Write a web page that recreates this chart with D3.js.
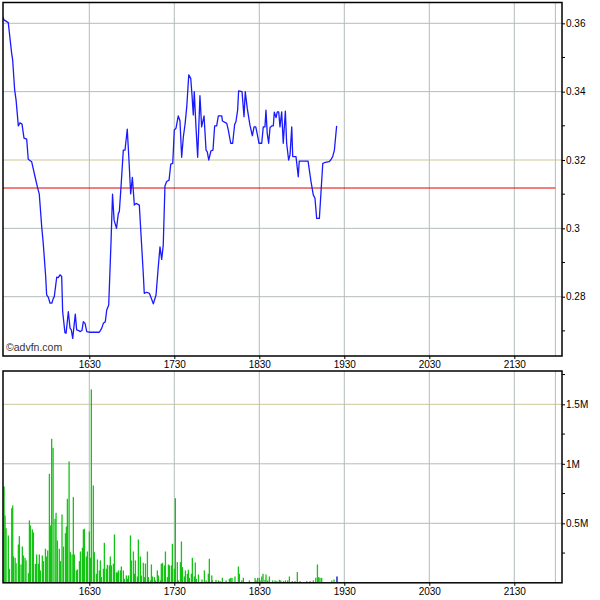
<!DOCTYPE html>
<html><head><meta charset="utf-8">
<script src="https://cdn.jsdelivr.net/npm/d3@7"></script>
<style>
html,body{margin:0;padding:0;background:#fff;}
svg{display:block;}
text{font-family:"Liberation Sans",Arial,sans-serif;font-size:10px;fill:#000;}
</style></head>
<body>
<svg id="c" width="600" height="600"></svg>
<script>
// ---- data (time = minutes after midnight) ----
const priceTime = [928.9,929.8,932.8,935.2,935.9,937.3,938.3,939.9,941.1,942.5,943.9,945.8,946.9,949.3,951.7,953.6,954.7,956.4,957.5,959.2,959.9,961.1,962.3,963.5,964.6,965.3,967.0,968.1,969.3,970.5,971.2,972.8,973.6,975.2,976.4,977.3,978.3,980.1,981.1,982.5,983.4,984.8,985.8,987.0,988.2,990.0,997.1,998.8,999.9,1001.3,1002.3,1003.7,1005.3,1006.4,1007.5,1009.2,1010.5,1011.2,1012.4,1014.0,1015.2,1016.8,1018.0,1019.2,1020.4,1021.8,1023.0,1025.3,1027.0,1028.1,1028.8,1030.5,1032.4,1034.1,1035.2,1037.1,1038.7,1039.9,1041.1,1042.2,1043.4,1044.6,1046.3,1047.5,1048.9,1050.0,1051.2,1052.8,1054.0,1055.2,1056.4,1057.6,1058.8,1060.2,1061.6,1062.5,1063.4,1064.1,1065.3,1066.5,1068.1,1069.3,1071.0,1072.4,1073.3,1074.3,1075.9,1077.3,1078.5,1079.9,1081.1,1083.5,1084.0,1087.0,1088.1,1089.8,1091.2,1092.6,1093.5,1094.7,1095.4,1097.8,1099.2,1100.1,1101.5,1103.4,1105.1,1106.3,1107.5,1108.6,1109.8,1111.7,1112.8,1114.0,1114.7,1115.6,1116.6,1117.6,1119.0,1119.9,1120.6,1121.8,1122.7,1123.7,1124.6,1125.8,1126.9,1128.4,1129.3,1130.7,1131.7,1132.9,1133.6,1135.9,1137.5,1138.2,1144.4,1145.3,1146.5,1148.1,1149.3,1150.5,1152.4,1154.8,1155.9,1159.2,1160.4,1161.8,1163.0,1164.6];
const priceValue = [0.3618,0.3610,0.3602,0.3512,0.3493,0.3405,0.3376,0.3300,0.3309,0.3305,0.3264,0.3261,0.3202,0.3195,0.3151,0.3117,0.3100,0.3005,0.2956,0.2859,0.2805,0.2798,0.2781,0.2781,0.2795,0.2800,0.2857,0.2856,0.2864,0.2859,0.2756,0.2695,0.2693,0.2756,0.2708,0.2703,0.2678,0.2749,0.2703,0.2701,0.2698,0.2701,0.2727,0.2722,0.2698,0.2696,0.2696,0.2708,0.2722,0.2727,0.2761,0.2776,0.2956,0.3100,0.3024,0.3000,0.3044,0.3049,0.3122,0.3229,0.3229,0.3290,0.3200,0.3101,0.3149,0.3068,0.3073,0.3068,0.2946,0.2868,0.2810,0.2813,0.2810,0.2792,0.2779,0.2805,0.2888,0.2946,0.2909,0.2951,0.3124,0.3137,0.3141,0.3188,0.3190,0.3288,0.3293,0.3329,0.3315,0.3208,0.3268,0.3305,0.3356,0.3449,0.3439,0.3390,0.3332,0.3400,0.3297,0.3208,0.3388,0.3297,0.3329,0.3229,0.3224,0.3200,0.3227,0.3229,0.3300,0.3300,0.3329,0.3329,0.3314,0.3307,0.3288,0.3249,0.3249,0.3304,0.3312,0.3346,0.3402,0.3400,0.3327,0.3400,0.3351,0.3302,0.3271,0.3297,0.3297,0.3275,0.3249,0.3249,0.3297,0.3297,0.3346,0.3278,0.3249,0.3295,0.3300,0.3300,0.3340,0.3324,0.3341,0.3341,0.3297,0.3341,0.3249,0.3343,0.3249,0.3200,0.3215,0.3297,0.3210,0.3210,0.3151,0.3197,0.3197,0.3171,0.3137,0.3098,0.3088,0.3029,0.3029,0.3190,0.3192,0.3195,0.3200,0.3210,0.3229,0.3300];
const volTime = [929.8,930.5,931.2,932.8,933.6,935.2,935.9,936.4,937.6,938.3,939.9,940.6,941.8,942.7,943.4,944.6,945.3,947.0,947.7,948.4,949.8,950.5,951.9,952.8,954.0,954.7,955.4,956.8,957.6,959.0,959.9,960.6,961.8,962.5,963.4,964.4,965.8,966.5,967.4,968.8,969.6,970.7,971.7,973.1,973.8,974.5,975.7,976.6,977.8,978.7,979.4,980.8,981.6,983.0,983.7,985.1,985.8,986.5,987.9,988.6,990.0,990.7,991.4,992.8,993.5,995.0,995.7,997.1,997.8,998.5,999.9,1000.6,1002.0,1002.7,1004.1,1004.8,1005.6,1007.0,1007.7,1009.1,1009.8,1010.5,1011.9,1012.6,1014.0,1014.7,1016.1,1016.8,1017.6,1019.0,1019.7,1021.1,1021.8,1022.5,1023.9,1024.6,1026.0,1026.7,1028.1,1028.8,1029.6,1031.0,1031.7,1033.1,1033.8,1034.5,1035.9,1036.6,1038.0,1038.7,1040.1,1040.8,1041.6,1043.0,1043.7,1045.1,1045.8,1046.5,1047.9,1048.6,1050.0,1050.7,1052.1,1052.8,1054.3,1055.0,1055.7,1057.1,1057.8,1059.2,1059.9,1060.6,1062.0,1062.7,1064.1,1064.8,1065.5,1067.0,1069.5,1071.2,1072.4,1074.0,1074.7,1076.4,1076.8,1079.4,1081.1,1082.3,1083.9,1086.5,1088.8,1089.8,1090.7,1092.8,1095.2,1095.9,1097.6,1098.7,1103.0,1107.0,1107.7,1108.8,1110.0,1110.5,1111.7,1112.6,1114.0,1114.7,1115.9,1117.1,1119.4,1121.1,1122.3,1124.1,1125.1,1127.0,1128.4,1130.0,1131.2,1133.3,1135.2,1136.8,1138.7,1143.4,1145.8,1148.1,1149.8,1151.0,1151.9,1152.8,1154.0,1161.1,1162.7,1164.8];
const volValue = [809000,566000,459000,398000,118000,627000,650000,221000,210000,165000,322000,392000,154000,305000,230000,210000,188000,81000,524000,482000,448000,423000,160000,238000,160000,238000,104000,230000,182000,286000,221000,272000,916000,482000,1210000,1134000,538000,588000,356000,286000,182000,574000,305000,417000,473000,706000,1020000,258000,238000,720000,238000,104000,112000,182000,263000,294000,448000,454000,221000,263000,431000,210000,1625000,818000,258000,76000,196000,104000,188000,48000,118000,336000,118000,151000,146000,221000,146000,160000,406000,87000,87000,104000,104000,137000,104000,34000,62000,34000,62000,398000,188000,263000,76000,188000,53000,364000,221000,62000,168000,48000,162000,263000,48000,20000,154000,53000,48000,20000,104000,62000,20000,160000,168000,146000,263000,48000,154000,146000,146000,328000,118000,711000,174000,20000,174000,347000,132000,53000,104000,76000,109000,42000,76000,210000,53000,171000,34000,70000,28000,104000,20000,76000,202000,62000,20000,25000,20000,14000,42000,20000,34000,42000,42000,53000,137000,76000,20000,42000,20000,39000,20000,42000,39000,20000,53000,76000,25000,70000,20000,53000,20000,20000,14000,25000,20000,14000,20000,20000,53000,14000,14000,90000,14000,14000,14000,20000,42000,154000,48000,42000,42000,20000,28000,53000];
const timeTicks = [990,1050,1110,1170,1230,1290];
const timeTickLabels = ["1630","1730","1830","1930","2030","2130"];
const sessionEnd = 1319;
const priceTicks = [0.28,0.30,0.32,0.34,0.36];
const priceTickLabels = ["0.28","0.3","0.32","0.34","0.36"];
const priceMinorTicks = [0.27,0.29,0.31,0.33,0.35];
const refPrice = 0.3118;
const volTicks = [500000,1000000,1500000];
const volTickLabels = ["0.5M","1M","1.5M"];
const volMinorTicks = [250000,750000,1250000,1750000];

// ---- layout ----
const svg = d3.select("#c");
const L = 3, R = 562;
const top1 = 2.5, bot1 = 356;
const top2 = 371, bot2 = 582.8;
const x = d3.scaleLinear().domain([930, 1320]).range([4.3, 556.8]);
const y = d3.scaleLinear().domain([0.28, 0.36]).range([296.7, 23.3]);
const yv = d3.scaleLinear().domain([0, 1500000]).range([582.8, 404.3]);

const gridCol = "#b4bcbc", gridWarm = "#cdc79c";

function panel(t, b, yScale, ticks, labels, minor, warmVal) {
  const g = svg.append("g");
  // horizontal grid
  g.selectAll(null).data(ticks).enter().append("line")
    .attr("x1", L).attr("x2", R)
    .attr("y1", d => yScale(d)).attr("y2", d => yScale(d))
    .attr("stroke", d => d === warmVal ? gridWarm : gridCol).attr("stroke-width", 1);
  // vertical grid
  g.selectAll(null).data(timeTicks.concat([sessionEnd])).enter().append("line")
    .attr("x1", d => x(d)).attr("x2", d => x(d))
    .attr("y1", t).attr("y2", b)
    .attr("stroke", gridCol).attr("stroke-width", 1);
  // right axis
  const ax = d3.axisRight(yScale).tickValues(ticks).tickSize(3).tickFormat((d, i) => labels[i]);
  const ag = svg.append("g").attr("transform", `translate(${R},0)`).call(ax);
  ag.select(".domain").remove();
  ag.selectAll("text").attr("x", 4).style("font-size", "10px");
  ag.selectAll("line").attr("stroke", "#000");
  svg.append("g").attr("transform", `translate(${R},0)`)
    .selectAll(null).data(minor.filter(d => yScale(d) > t && yScale(d) < b)).enter().append("line")
    .attr("x1", 0).attr("x2", 3).attr("y1", d => yScale(d)).attr("y2", d => yScale(d)).attr("stroke", "#000");
  // bottom axis labels
  const bx = d3.axisBottom(x).tickValues(timeTicks).tickSize(3).tickFormat((d, i) => timeTickLabels[i]);
  const bg = svg.append("g").attr("transform", `translate(0,${b})`).call(bx);
  bg.select(".domain").remove();
  bg.selectAll("text").attr("y", 5).style("font-size", "10px");
  return g;
}

panel(top1, bot1, y, priceTicks, priceTickLabels, priceMinorTicks, 0.32);
panel(top2, bot2, yv, volTicks, volTickLabels, volMinorTicks, 1500000);

// clip
svg.append("clipPath").attr("id", "cp1").append("rect").attr("x", L).attr("y", top1).attr("width", R - L).attr("height", bot1 - top1);

// reference line
svg.append("line").attr("x1", L).attr("x2", x(sessionEnd))
  .attr("y1", y(refPrice)).attr("y2", y(refPrice))
  .attr("stroke", "#dd0000").attr("stroke-width", 1);

// price line
const pts = priceTime.map((t, i) => [t, priceValue[i]]);
svg.append("path").datum(pts)
  .attr("clip-path", "url(#cp1)")
  .attr("fill", "none").attr("stroke", "#1a1aff").attr("stroke-width", 1.3)
  .attr("stroke-linejoin", "round")
  .attr("d", d3.line().x(d => x(d[0])).y(d => y(d[1])));

// volume bars
svg.append("g").selectAll("rect").data(volTime.map((t, i) => [t, volValue[i], i])).enter().append("rect")
  .attr("x", d => x(d[0]) - 0.6).attr("width", 1.3)
  .attr("y", d => yv(d[1])).attr("height", d => yv(0) - yv(d[1]))
  .attr("fill", d => d[2] === volTime.length - 1 ? "#0000cc" : "#14c414");

// watermark
svg.append("text").attr("x", 6).attr("y", 351).text("©advfn.com")
  .style("font-size", "10.5px").style("fill", "#333");

// frames
[[top1, bot1], [top2, bot2]].forEach(([t, b]) => {
  svg.append("rect").attr("x", L).attr("y", t).attr("width", R - L).attr("height", b - t)
    .attr("fill", "none").attr("stroke", "#000").attr("stroke-width", 1.5);
});
</script>
</body></html>
